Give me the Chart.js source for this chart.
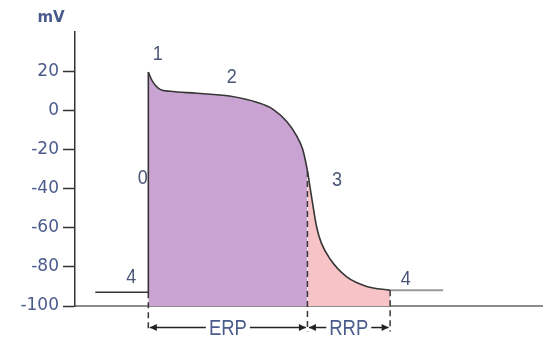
<!DOCTYPE html>
<html><head><meta charset="utf-8">
<script src="https://cdn.jsdelivr.net/npm/chart.js@4/dist/chart.umd.min.js"></script>
<style>html,body{margin:0;padding:0;background:#fff;overflow:hidden}#wrap{width:543px;height:338px;position:relative}</style>
</head><body><div id="wrap"><canvas id="c"></canvas></div>
<script>
// ---- data (time in ms, potential in mV) ----
const restTime = [13, 47];
const restMv = [-93, -93];
const apTime = [47, 49.5, 54.5, 61, 78, 99, 117, 127, 136, 142, 146, 149, 151, 153, 155, 158, 163.5, 174, 187, 202];
const apMv   = [19.5, 15, 10.7, 9.7, 8.7, 7.3, 4, 0.5, -6, -13, -20, -31, -41, -51, -60, -68, -76, -85, -90, -92];
const tailTime = [202, 236];
const tailMv = [-92, -92];
const erpStart = 47, erpEnd = 149, rrpEnd = 202;
const yTicks = [20, 0, -20, -40, -60, -80, -100];
const phaseText = ['1', '2', '0', '3', '4', '4'];
const phaseTime = [53, 100.5, 43.5, 168, 36, 212];
const phaseMv = [28.5, 17, -35, -36, -85.5, -86.5];
const unitLabel = 'mV';
const periodLabels = ['ERP', 'RRP'];

const PURPLE = '#c9a3d1', PINK = '#f8c3c6', LINE = '#363636', TXT = '#4a5b8c';
const mvAt = t => apMv[apTime.indexOf(t)];

const restPts = restTime.map((t, i) => ({x: t, y: restMv[i]}));
restPts.push({x: apTime[0], y: apMv[0]});
const apPts = apTime.map((t, i) => ({x: t, y: apMv[i]}));
const tailPts = tailTime.map((t, i) => ({x: t, y: tailMv[i]}));

const overlay = {
  id: 'overlay',
  afterDatasetsDraw(chart) {
    const {ctx, scales: {x, y}} = chart;
    const X = v => x.getPixelForValue(v), Y = v => y.getPixelForValue(v);
    ctx.save();
    // dashed period boundaries
    ctx.strokeStyle = LINE; ctx.lineWidth = 1.5; ctx.setLineDash([6, 4]);
    const bottom = -113;
    [[erpStart, restMv[1]], [erpEnd, mvAt(erpEnd)], [rrpEnd, mvAt(rrpEnd)]].forEach(([t, v]) => {
      ctx.beginPath(); ctx.moveTo(X(t), Y(v)); ctx.lineTo(X(t), Y(bottom)); ctx.stroke();
    });
    ctx.setLineDash([]);
    // period arrows
    const ay = Y(-111);
    const SX = 0.84;
    ctx.font = '22px "Liberation Sans", sans-serif';
    ctx.textAlign = 'center'; ctx.textBaseline = 'middle';
    const head = (px, dir) => {
      ctx.beginPath(); ctx.moveTo(px, ay); ctx.lineTo(px - dir * 7, ay - 3.5); ctx.lineTo(px - dir * 7, ay + 3.5); ctx.closePath(); ctx.fill();
    };
    [[erpStart, erpEnd, periodLabels[0]], [erpEnd, rrpEnd, periodLabels[1]]].forEach(([a, b, lab]) => {
      const x1 = X(a) + 1.5, x2 = X(b) - 1.5, mid = (X(a) + X(b)) / 2;
      const w = ctx.measureText(lab).width * SX;
      ctx.strokeStyle = '#222'; ctx.fillStyle = '#222'; ctx.lineWidth = 1.5;
      ctx.beginPath(); ctx.moveTo(x1, ay); ctx.lineTo(mid - w / 2 - 3, ay); ctx.stroke();
      ctx.beginPath(); ctx.moveTo(mid + w / 2 + 3, ay); ctx.lineTo(x2, ay); ctx.stroke();
      head(x1, -1); head(x2, 1);
      ctx.save(); ctx.translate(mid, ay + 1); ctx.scale(SX, 1);
      ctx.fillStyle = TXT; ctx.fillText(lab, 0, 0); ctx.restore();
    });
    // phase numbers
    ctx.font = '20px "Liberation Sans", sans-serif';
    ctx.fillStyle = '#4a5678';
    phaseText.forEach((s, i) => {
      ctx.save(); ctx.translate(X(phaseTime[i]), Y(phaseMv[i])); ctx.scale(0.9, 1);
      ctx.fillText(s, 0, 0); ctx.restore();
    });
    // unit
    ctx.font = 'bold 15px "DejaVu Sans", sans-serif';
    ctx.fillStyle = TXT;
    ctx.fillText(unitLabel, X(0) - 24, Y(47));
    ctx.restore();
  }
};

new Chart(document.getElementById('c'), {
  type: 'line',
  data: {
    datasets: [
      {data: restPts, borderColor: LINE, borderWidth: 1.6, pointRadius: 0, tension: 0, fill: false},
      {data: apPts, borderColor: LINE, borderWidth: 1.6, pointRadius: 0, cubicInterpolationMode: 'monotone',
       fill: 'start', backgroundColor: PURPLE,
       segment: {backgroundColor: c => c.p0.parsed.x < erpEnd ? PURPLE : PINK}},
      {data: tailPts, borderColor: '#9a9a9a', borderWidth: 2, pointRadius: 0, fill: false}
    ]
  },
  options: {
    responsive: true, maintainAspectRatio: false, animation: false,
    layout: {padding: {top: 32, bottom: 32, left: 0, right: 0}},
    plugins: {legend: {display: false}, tooltip: {enabled: false}},
    scales: {
      x: {type: 'linear', min: 0, max: 300,
          ticks: {display: false}, grid: {display: false},
          border: {display: true, color: '#8c8c8c', width: 2},
          afterFit: s => { s.height = 0; }},
      y: {min: -100, max: 40,
          afterBuildTicks: s => { s.ticks = yTicks.map(v => ({value: v})); },
          ticks: {color: TXT, padding: 4, font: {family: '"DejaVu Sans", sans-serif', size: 17}},
          grid: {drawOnChartArea: false, drawTicks: true, tickLength: 12, tickColor: '#333', tickWidth: 1.5},
          border: {display: true, color: '#333', width: 1.5},
          afterFit: s => { s.width = 75; }}
    }
  },
  plugins: [overlay]
});
</script>
</body></html>
